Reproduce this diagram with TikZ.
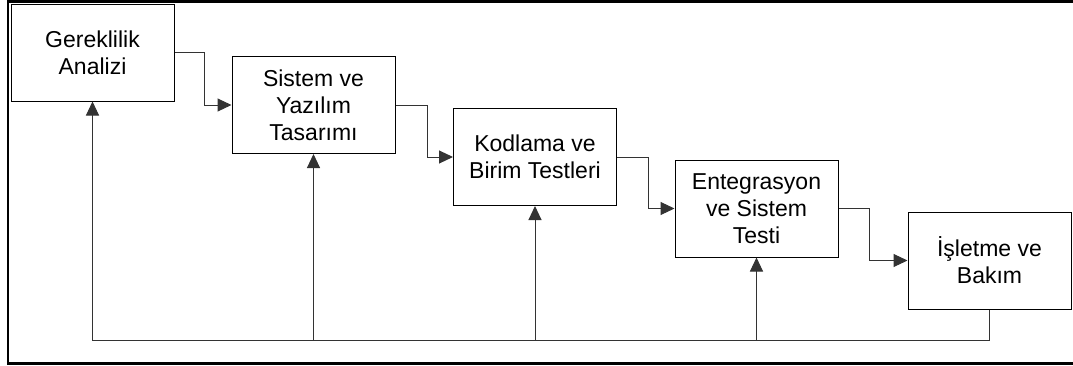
\documentclass[tikz,border=0pt]{standalone}
\usepackage{fontspec}
\setmainfont{Liberation Sans}
\usetikzlibrary{arrows.meta}
\begin{document}
\begin{tikzpicture}[x=0.5pt,y=-0.5pt,
  stage/.style={draw=black, line width=0.5pt, minimum width=81.5pt, minimum height=48.5pt,
    align=center, inner sep=0pt, font=\fontsize{11.5}{13.5}\selectfont},
  link/.style={line width=0.5pt, draw=black!80},
  flow/.style={link, -{Triangle[length=7pt,width=6.5pt]}},
  frame/.style={line width=1.35pt}]
\useasboundingbox (0,0) rectangle (1073,365);
% open frame: top, left and bottom edges
\draw[frame] (1073,1.3) -| (8,363.8) -- (1073,363.8);

% waterfall stages
\node[stage] (b1) at (92.5,52.5)  {Gereklilik\\Analizi};
\node[stage] (b2) at (313.5,105)  {Sistem ve\\Yazılım\\Tasarımı};
\node[stage] (b3) at (535,157)    {Kodlama ve\\Birim Testleri};
\node[stage] (b4) at (756.5,208.5){Entegrasyon\\ve Sistem\\Testi};
\node[stage] (b5) at (989.5,260.5){İşletme ve\\Bakım};

% forward steps
\draw[flow] (b1.east) -- ++(30,0) |- (b2.west);
\draw[flow] (b2.east) -- ++(32,0) |- (b3.west);
\draw[flow] (b3.east) -- ++(31,0) |- (b4.west);
\draw[flow] (b4.east) -- ++(31,0) |- (b5.west);

% feedback to every earlier stage
\draw[flow] (b5.south) -- ++(0,31) coordinate (fb) -| (b1.south);
\foreach \n in {b2,b3,b4}
  \draw[flow] (\n.south |- fb) -- (\n.south);
\end{tikzpicture}
\end{document}
